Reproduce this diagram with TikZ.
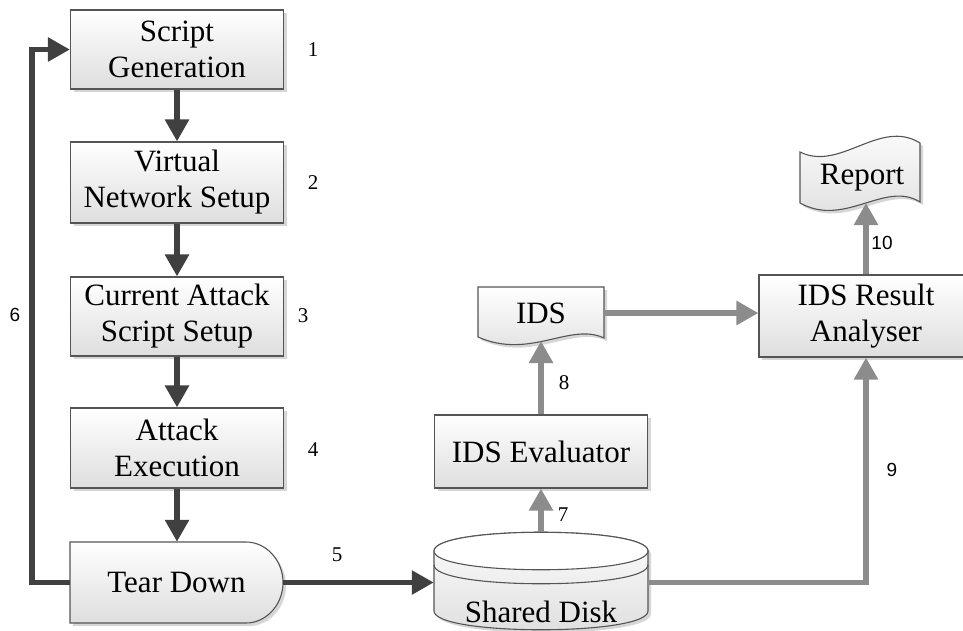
\documentclass[tikz,border=0pt]{standalone}
\usepackage{fontspec}
\setmainfont{Liberation Serif}
\newfontfamily\labelsans{Liberation Sans}
\usetikzlibrary{arrows.meta,shadows}
\definecolor{flowdark}{HTML}{404040}
\definecolor{flowgrey}{HTML}{8C8C8C}
\definecolor{edgegrey}{HTML}{555555}

\begin{document}
\begin{tikzpicture}[x=1pt,y=-1pt,
  shapefill/.style={top color=white,bottom color=black!13,draw=edgegrey,line width=1.1pt,
    drop shadow={shadow xshift=3pt,shadow yshift=-3pt,opacity=0.16,fill=black}},
  procbox/.style={shapefill,rectangle,align=center,inner sep=0pt,
    font=\fontsize{31}{36}\selectfont},
  slot/.style={rectangle,inner sep=0pt,align=center,font=\fontsize{31}{36}\selectfont},
  darkflow/.style={draw=flowdark,line width=5.5pt,-{Triangle[length=22pt,width=23pt]}},
  greyflow/.style={draw=flowgrey,line width=5.5pt,-{Triangle[length=22pt,width=23pt]}},
  numlab/.style={inner sep=0pt,font=\fontsize{21}{21}\selectfont},
  sanslab/.style={inner sep=0pt,font=\labelsans\fontsize{19}{19}\selectfont}]

\useasboundingbox[fill=white] (0,0) rectangle (963,630);

% ---- left column: process steps
\node[procbox,minimum width=213pt,minimum height=79pt] (sg) at (177,49.5) {Script\\Generation};
\node[procbox,minimum width=213pt,minimum height=81pt] (vn) at (177,182.5) {Virtual\\Network Setup};
\node[procbox,minimum width=213pt,minimum height=79pt] (ca) at (177,316.5) {Current Attack\\Script Setup};
\node[procbox,minimum width=213pt,minimum height=80pt] (ae) at (177,448) {Attack\\Execution};

% tear down (delay shape)
\path[shapefill] (70,542) -- (246,542)
  .. controls (266,542) and (283,560) .. (283,582.5)
  .. controls (283,605) and (266,623) .. (246,623) -- (70,623) -- cycle;
\node[slot,minimum width=213pt,minimum height=81pt] (td) at (176.5,582.5) {Tear Down};

% ---- shared disk (cylinder)
\path[shapefill] (434,551) -- (434,611)
  .. controls (434,636) and (648,636) .. (648,611) -- (648,551)
  .. controls (648,526) and (434,526) .. (434,551) -- cycle;
\path[draw=edgegrey,line width=1.1pt,fill=white]
  (434,551) .. controls (434,526) and (648,526) .. (648,551)
  .. controls (648,576) and (434,576) .. (434,551) -- cycle;
\draw[edgegrey,line width=1.1pt] (434,565) .. controls (434,590) and (648,590) .. (648,565);
\node[slot,minimum width=214pt,minimum height=98pt] (disk) at (541,581) {};
\node[slot] (disklabel) at (541,612) {Shared Disk};

% ---- evaluator
\node[procbox,minimum width=213pt,minimum height=73pt] (ev) at (541,451.5) {IDS Evaluator};

% ---- IDS document
\path[shapefill] (478,287) -- (604,287) -- (604,338)
  .. controls (570,322) and (530,360) .. (478,337) -- cycle;
\node[slot,minimum width=126pt,minimum height=52pt] (ids) at (541,313) {IDS};
\coordinate (idsfoot) at (541,341);

% ---- result analyser
\node[procbox,minimum width=214pt,minimum height=82pt] (an) at (866,316) {IDS Result\\Analyser};

% ---- report (tape shape)
\path[shapefill] (800,152) .. controls (840,172) and (880,118) .. (920,143)
  -- (920,202) .. controls (885,180) and (845,228) .. (800,203) -- cycle;
\node[slot,minimum width=120pt,minimum height=55pt] (rep) at (862,178) {Report};
\coordinate (repfoot) at (866,203);

% ---- connectors
\draw[darkflow] (sg.south) -- (vn.north);
\draw[darkflow] (vn.south) -- (ca.north);
\draw[darkflow] (ca.south) -- (ae.north);
\draw[darkflow] (ae.south) -- (ae.south |- td.north);
\draw[darkflow] (td.west) -- ++(-38,0) |- (sg.west);
\draw[darkflow] (td.east) -- (td.east -| disk.west);

\draw[greyflow] (disk.north) -- (ev.south);
\draw[greyflow] (ev.north) -- (idsfoot);
\draw[greyflow] (ids.east) -- (ids.east -| an.west);
\draw[greyflow] (disk.east |- td.east) -| (an.south);
\draw[greyflow] (an.north) -- (repfoot);

% ---- step numbers
\node[numlab] (n1) at (313,50) {1};
\node[numlab] (n2) at (313,183) {2};
\node[numlab] (n3) at (303,316) {3};
\node[numlab] (n4) at (313,450) {4};
\node[numlab] (n5) at (337,555) {5};
\node[sanslab] (n6) at (15,315) {6};
\node[numlab] (n7) at (563,515) {7};
\node[numlab] (n8) at (564,383) {8};
\node[sanslab] (n9) at (892,470) {9};
\node[sanslab] (n10) at (882,243) {10};
\end{tikzpicture}
\end{document}
